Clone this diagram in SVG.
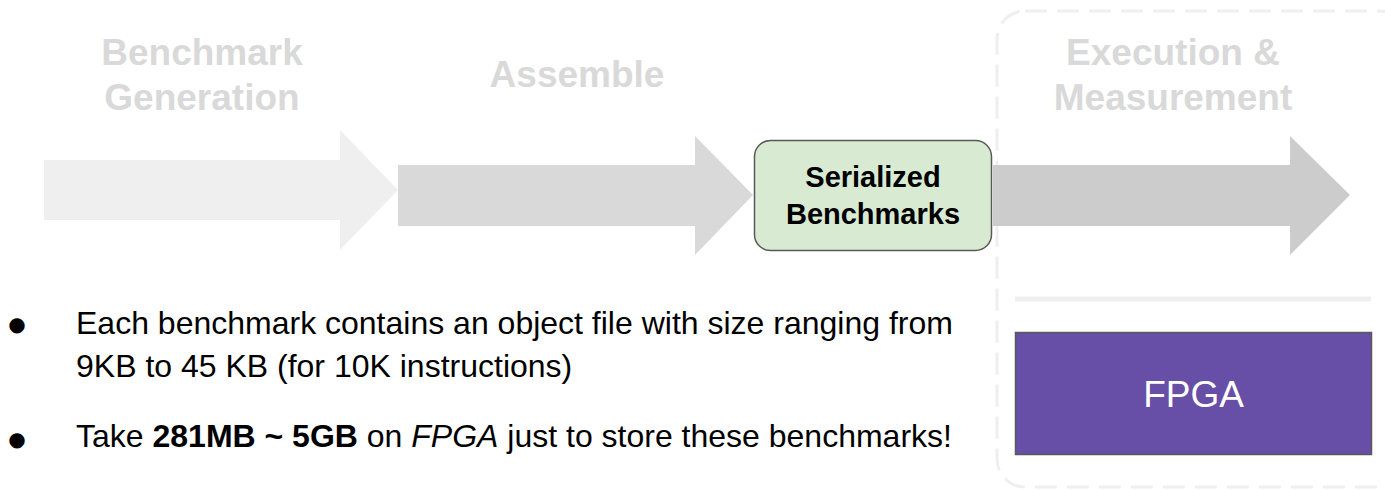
<svg xmlns="http://www.w3.org/2000/svg" width="1385" height="490" viewBox="0 0 1385 490">
<style>
.title{font-family:"Liberation Sans",Arial,sans-serif;font-weight:bold;font-size:37px;fill:#d9d9d9;text-anchor:middle}
.body{font-family:"Liberation Sans",Arial,sans-serif;font-size:32px;fill:#000}
.bul{font-family:"DejaVu Sans",sans-serif;font-size:20px;fill:#000;text-anchor:middle}
.node{font-family:"Liberation Sans",Arial,sans-serif;text-anchor:middle}
</style>
<rect width="1385" height="490" fill="#ffffff"/>
<g id="stage-frame">
<rect x="997" y="11" width="410" height="476" rx="28" fill="none" stroke="#efefef" stroke-width="3" stroke-dasharray="22 10"/>
<line x1="1015" y1="299" x2="1371" y2="299" stroke="#efefef" stroke-width="5"/>
</g>
<g id="connectors">
<polygon points="44,160 340,160 340,130 398,190 340,250 340,220 44,220" fill="#efefef"/>
<polygon points="398,165 695,165 695,136 753,195 695,255 695,226 398,226" fill="#d9d9d9"/>
<polygon points="993,165 1290,165 1290,136 1350,195 1290,255 1290,226 993,226" fill="#cccccc"/>
</g>
<g id="title-generation">
<text class="title" x="202" y="65">Benchmark</text>
<text class="title" x="202" y="110">Generation</text>
</g>
<g id="title-assemble">
<text class="title" x="577" y="87">Assemble</text>
</g>
<g id="title-execution">
<text class="title" x="1173" y="65">Execution &amp;</text>
<text class="title" x="1173" y="110">Measurement</text>
</g>
<g id="serialized">
<rect x="754.5" y="140.5" width="237" height="110" rx="16" fill="#d9ead3" stroke="#595959" stroke-width="1.5"/>
<text class="node" x="873" y="187" font-weight="bold" font-size="29" fill="#000">Serialized</text>
<text class="node" x="873" y="224" font-weight="bold" font-size="29" fill="#000">Benchmarks</text>
</g>
<g id="fpga">
<rect x="1015.5" y="332.5" width="356" height="122" fill="#674ea7" stroke="#595959" stroke-width="1.5"/>
<text class="node" x="1193.5" y="407" font-size="37" fill="#ffffff">FPGA</text>
</g>
<g id="notes">
<text class="bul" x="17" y="331">●</text>
<text class="body" x="76" y="334">Each benchmark contains an object file with size ranging from</text>
<text class="body" x="76" y="377">9KB to 45 KB (for 10K instructions)</text>
<text class="bul" x="17" y="446">●</text>
<text class="body" x="76" y="447">Take <tspan font-weight="bold">281MB ~ 5GB</tspan> on <tspan font-style="italic">FPGA</tspan> just to store these benchmarks!</text>
</g>
</svg>
